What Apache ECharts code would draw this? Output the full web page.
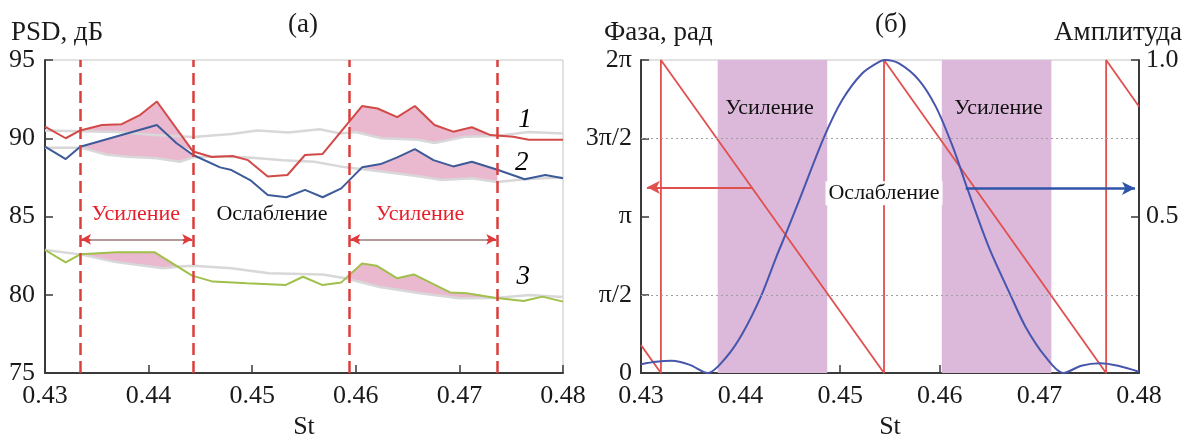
<!DOCTYPE html>
<html>
<head>
<meta charset="utf-8">
<script src="https://cdn.jsdelivr.net/npm/echarts@6/dist/echarts.min.js"></script>
<style>
html,body{margin:0;padding:0;background:#fff;}
#chart{width:1189px;height:435px;}
</style>
</head>
<body>
<div id="chart"></div>
<script>
// ---------- data (panel a) ----------
const stTicks = [0.43, 0.44, 0.45, 0.46, 0.47, 0.48];
const psdTicks = [75, 80, 85, 90, 95];
const curve1 = [[0.4300,90.75],[0.4320,90.0],[0.4334,90.5],[0.4355,90.85],[0.4374,90.9],[0.4392,91.5],[0.4408,92.35],[0.4443,89.15],[0.4461,88.8],[0.4481,88.87],[0.4496,88.6],[0.4515,87.55],[0.4534,87.65],[0.4551,88.93],[0.4568,89.0],[0.4606,92.06],[0.4621,91.9],[0.4640,91.35],[0.4657,92.06],[0.4676,90.85],[0.4694,90.42],[0.4712,90.7],[0.4730,90.2],[0.4752,90.1],[0.4767,89.9],[0.4800,89.9]];
const curve2 = [[0.4300,89.46],[0.4320,88.67],[0.4334,89.46],[0.4408,90.85],[0.4427,89.68],[0.4443,88.93],[0.4469,88.14],[0.4480,87.97],[0.4498,87.33],[0.4515,86.37],[0.4533,86.23],[0.4551,86.7],[0.4568,86.23],[0.4586,86.8],[0.4606,88.14],[0.4624,88.35],[0.4640,88.78],[0.4657,89.3],[0.4675,88.6],[0.4694,88.2],[0.4712,88.5],[0.4736,88.0],[0.4763,87.38],[0.4783,87.65],[0.4800,87.44]];
const curve3 = [[0.4300,82.86],[0.4320,82.07],[0.4334,82.58],[0.4369,82.71],[0.4406,82.71],[0.4442,81.22],[0.4462,80.84],[0.4495,80.73],[0.4532,80.62],[0.4549,81.15],[0.4568,80.62],[0.4586,80.79],[0.4606,82.0],[0.4620,81.86],[0.4640,81.05],[0.4656,81.3],[0.4691,80.15],[0.4707,80.1],[0.4734,79.81],[0.4762,79.6],[0.4780,79.88],[0.4800,79.56]];
const base1 = [[0.4300,90.5],[0.4334,90.45],[0.4370,90.4],[0.4405,90.2],[0.4443,90.08],[0.4480,90.27],[0.4505,90.5],[0.4535,90.36],[0.4565,90.57],[0.4585,90.3],[0.4600,90.4],[0.4625,90.0],[0.4660,89.9],[0.4676,89.7],[0.4705,90.1],[0.4736,90.15],[0.4767,90.4],[0.4800,90.3]];
const base2 = [[0.4300,89.4],[0.4334,89.4],[0.4360,88.95],[0.4380,88.82],[0.4408,88.72],[0.4430,88.5],[0.4443,88.78],[0.4470,88.85],[0.4500,88.76],[0.4530,88.6],[0.4560,88.5],[0.4590,88.14],[0.4625,87.87],[0.4664,87.54],[0.4683,87.33],[0.4712,87.44],[0.4736,87.2],[0.4763,87.38],[0.4800,87.5]];
const base3 = [[0.4300,82.86],[0.4334,82.58],[0.4367,82.1],[0.4414,81.7],[0.4430,81.8],[0.4443,81.86],[0.4480,81.7],[0.4516,81.37],[0.4568,81.3],[0.4590,81.05],[0.4623,80.5],[0.4662,80.1],[0.4700,79.77],[0.4734,79.8],[0.4768,79.98],[0.4800,79.85]];
const gainZonesA = [[0.43338, 0.44431], [0.45937, 0.47366]];
const arrowLevelA = 83.54;
const labelsA = [
  {name:'Усиление', x:0.43876, y:85.14, color:'#e81e28', italic:false},
  {name:'Ослабление', x:0.45191, y:85.14, color:'#111', italic:false},
  {name:'Усиление', x:0.46620, y:85.14, color:'#e81e28', italic:false},
  {name:'1', x:0.47633, y:91.17, color:'#000', italic:true},
  {name:'2', x:0.47601, y:88.44, color:'#000', italic:true},
  {name:'3', x:0.47617, y:81.15, color:'#000', italic:true}
];
// ---------- data (panel б) ----------
const phaseTickLabels = ['0', 'π/2', 'π', '3π/2', '2π'];
const ampTickLabels = ['', '0.5', '1.0'];
const phase = [[0.4300,0.56],[0.4320,0],[0.4320,6.2832],[0.4544,0],[0.4544,6.2832],[0.4767,0],[0.4767,6.2832],[0.4800,5.35]];
const amplitude = [[0.4300,0.028],[0.4315,0.036],[0.4331,0.039],[0.4349,0.026],[0.4367,0.0],[0.4386,0.052],[0.4402,0.127],[0.4421,0.249],[0.4436,0.372],[0.4447,0.457],[0.4459,0.553],[0.4484,0.755],[0.4502,0.872],[0.4522,0.957],[0.4539,0.994],[0.4545,1.0],[0.4559,0.989],[0.4579,0.936],[0.4596,0.851],[0.4613,0.723],[0.4627,0.595],[0.4649,0.404],[0.4671,0.249],[0.4686,0.148],[0.4706,0.052],[0.4724,0.0],[0.4742,0.023],[0.4761,0.031],[0.4779,0.023],[0.4800,0.004]];
const gainBandsB = [[0.4377, 0.4487], [0.4602, 0.4712]];
const phaseArrow = {from:0.4412, to:0.4306, y:3.727};
const ampArrow = {from:0.4626, to:0.4796, y:0.59};
const labelsB = [
  {name:'Усиление', x:0.4429, y:5.32, bg:null},
  {name:'Усиление', x:0.4659, y:5.32, bg:null},
  {name:'Ослабление', x:0.4544, y:3.61, bg:'#fff'}
];

// ---------- helpers ----------
const FONT = '"Liberation Serif","DejaVu Serif",serif';
function interp(arr, x){
  if (x <= arr[0][0]) return arr[0][1];
  for (let i=1;i<arr.length;i++){
    if (x <= arr[i][0]){
      const a=arr[i-1], b=arr[i];
      return a[1] + (b[1]-a[1])*(x-a[0])/(b[0]-a[0]);
    }
  }
  return arr[arr.length-1][1];
}
function buildFill(curve, base, x0, x1){
  const xs = [x0, x1];
  curve.concat(base).forEach(p=>{ if(p[0]>x0 && p[0]<x1) xs.push(p[0]); });
  xs.sort((a,b)=>a-b);
  const top = xs.map(x=>[x, interp(curve,x)]);
  const bot = xs.map(x=>{ const u=interp(curve,x), b=interp(base,x); return [x, Math.min(u,b)]; }).reverse();
  return top.concat(bot);
}
const fillPolys = [];
[[curve1,base1],[curve2,base2],[curve3,base3]].forEach(([c,b])=>{
  gainZonesA.forEach(z=>fillPolys.push(buildFill(c,b,z[0],z[1])));
});
const psdMin = psdTicks[0], psdMax = psdTicks[psdTicks.length-1];

const axisLineStyle = {color:'#3a3a3a', width:2};
const labelStyle = {fontFamily:FONT, fontSize:26, color:'#1a1a1a'};
function xAxisCfg(gi){
  return {
    type:'value', gridIndex:gi, min:0.43, max:0.48, interval:0.01,
    axisLine:{show:true, lineStyle:axisLineStyle},
    axisTick:{show:true, inside:true, length:8, lineStyle:{color:'#3a3a3a', width:1.5}},
    axisLabel:Object.assign({margin:10, formatter:v=>{const i=stTicks.findIndex(t=>Math.abs(t-v)<1e-6); return i>=0?stTicks[i].toFixed(2):'';}}, labelStyle),
    splitLine:{show:false},
    name:'St', nameLocation:'middle', nameGap:36,
    nameTextStyle:{fontFamily:FONT, fontSize:26, color:'#1a1a1a'}
  };
}

const titleStyle = {fontFamily:FONT, fontSize:27, fontWeight:'normal', color:'#1a1a1a'};
const option = {
  animation:false,
  backgroundColor:'#fff',
  title:[
    {text:'PSD, дБ', left:11, top:19, padding:0, textStyle:titleStyle},
    {text:'(а)', left:288, top:11, padding:0, textStyle:titleStyle},
    {text:'Фаза, рад', left:604, top:19, padding:0, textStyle:titleStyle},
    {text:'(б)', left:875, top:11, padding:0, textStyle:titleStyle},
    {text:'Амплитуда', right:7, top:19, padding:0, textStyle:titleStyle}
  ],
  grid:[
    {left:45, top:60, width:518, height:313, containLabel:false, outerBoundsMode:'none', show:true, borderColor:'#c4c4c4', borderWidth:1, backgroundColor:'#fff'},
    {left:641, top:60, width:498, height:313, containLabel:false, outerBoundsMode:'none', show:true, borderColor:'#c4c4c4', borderWidth:1, backgroundColor:'#fff'}
  ],
  xAxis:[xAxisCfg(0), xAxisCfg(1)],
  yAxis:[
    {type:'value', gridIndex:0, min:psdMin, max:psdMax, interval:5,
     axisLine:{show:true, lineStyle:axisLineStyle},
     axisTick:{show:true, inside:true, length:8, lineStyle:{color:'#3a3a3a', width:1.5}},
     axisLabel:Object.assign({margin:10, formatter:v=>{const i=psdTicks.indexOf(Math.round(v)); return i>=0?String(psdTicks[i]):'';}}, labelStyle),
     splitLine:{show:false}},
    {type:'value', gridIndex:1, min:0, max:2*Math.PI, interval:Math.PI/2, position:'left',
     axisLine:{show:true, lineStyle:axisLineStyle},
     axisTick:{show:true, inside:true, length:8, lineStyle:{color:'#3a3a3a', width:1.5}},
     axisLabel:Object.assign({margin:9, formatter:v=>phaseTickLabels[Math.round(v/(Math.PI/2))]||''}, labelStyle),
     splitLine:{show:false}},
    {type:'value', gridIndex:1, min:0, max:1, interval:0.5, position:'right',
     axisLine:{show:true, lineStyle:axisLineStyle},
     axisTick:{show:true, inside:true, length:8, lineStyle:{color:'#3a3a3a', width:1.5}},
     axisLabel:Object.assign({margin:7, formatter:v=>ampTickLabels[Math.round(v*2)]||''}, labelStyle),
     splitLine:{show:false}}
  ],
  series:[
    // pink fills (panel a)
    {type:'custom', xAxisIndex:0, yAxisIndex:0, z:1, silent:true,
     data:fillPolys.map(p=>[p[0][0], p[0][1]]),
     renderItem:(params, api)=>{
       const pts = fillPolys[params.dataIndex].map(p=>api.coord(p));
       return {type:'polygon', shape:{points:pts}, style:{fill:'#eab9cf'}};
     }},
    // gray baselines
    ...[base1, base2, base3].map(b=>({type:'line', xAxisIndex:0, yAxisIndex:0, z:2, data:b, showSymbol:false, symbol:'none',
      lineStyle:{color:'#d8d8d8', width:2.5}})),
    // colored curves
    {type:'line', xAxisIndex:0, yAxisIndex:0, z:3, data:curve1, symbol:'none', lineStyle:{color:'#d24a48', width:2}},
    {type:'line', xAxisIndex:0, yAxisIndex:0, z:3, data:curve2, symbol:'none', lineStyle:{color:'#3d5a99', width:2}},
    {type:'line', xAxisIndex:0, yAxisIndex:0, z:3, data:curve3, symbol:'none', lineStyle:{color:'#a0bf4c', width:2}},
    // dashed zone borders + arrows
    {type:'line', xAxisIndex:0, yAxisIndex:0, z:4, data:[], silent:true,
     markLine:{silent:true, symbol:['none','none'], label:{show:false},
       lineStyle:{color:'#d9403b', width:2.5, type:[12,6]},
       data:[gainZonesA[0][0], gainZonesA[0][1], gainZonesA[1][0], gainZonesA[1][1]].map(x=>[{coord:[x, psdMin]},{coord:[x, psdMax]}])}},
    {type:'line', xAxisIndex:0, yAxisIndex:0, z:4, data:[], silent:true,
     markLine:{silent:true, symbol:['arrow','arrow'], symbolSize:[8,10], label:{show:false},
       lineStyle:{color:'#e03a3a', width:2, type:'solid'},
       data:gainZonesA.map(z=>[{coord:[z[0]+0.0001, arrowLevelA]},{coord:[z[1]-0.0001, arrowLevelA]}])}},
    {type:'line', xAxisIndex:0, yAxisIndex:0, z:5, data:[], silent:true,
     markLine:{silent:true, symbol:['none','none'], label:{show:false},
       lineStyle:{color:'#b49a9a', width:2, type:'solid'},
       data:gainZonesA.map(z=>[{coord:[z[0]+0.0010, arrowLevelA]},{coord:[z[1]-0.0010, arrowLevelA]}])}},
    // text labels panel a
    {type:'scatter', xAxisIndex:0, yAxisIndex:0, z:6, silent:true, symbolSize:1, itemStyle:{color:'rgba(255,255,255,0)'},
     data:labelsA.map(l=>({value:[l.x,l.y], name:l.name,
       label:{show:true, position:'inside', formatter:l.name, color:l.color, opacity:1, fontFamily:FONT,
              fontSize:l.italic?27:22, fontStyle:l.italic?'italic':'normal'}}))},
    // panel b: bands
    {type:'line', xAxisIndex:1, yAxisIndex:1, z:1, data:[], silent:true,
     markArea:{silent:true, itemStyle:{color:'#dcb8db'}, label:{show:false},
       data:gainBandsB.map(b=>[{xAxis:b[0]},{xAxis:b[1]}])}},
    // dotted reference lines
    {type:'line', xAxisIndex:1, yAxisIndex:1, z:2, data:[], silent:true,
     markLine:{silent:true, symbol:['none','none'], label:{show:false},
       lineStyle:{color:'#a0a0a0', width:1.2, type:[2,3]},
       data:[Math.PI/2, 3*Math.PI/2].map(v=>[{coord:[0.43, v]},{coord:[0.48, v]}])}},
    // phase
    {type:'line', xAxisIndex:1, yAxisIndex:1, z:3, data:phase, symbol:'none', lineStyle:{color:'#e0504f', width:1.8},
     markLine:{silent:true, symbol:['none','arrow'], symbolSize:[10,13], label:{show:false},
       lineStyle:{color:'#e0504f', width:2.2, type:'solid'},
       data:[[{coord:[phaseArrow.from, phaseArrow.y]},{coord:[phaseArrow.to, phaseArrow.y]}]]}},
    // amplitude
    {type:'line', xAxisIndex:1, yAxisIndex:2, z:3, data:amplitude, symbol:'none', smooth:0.3, lineStyle:{color:'#4656ad', width:2},
     markLine:{silent:true, symbol:['none','arrow'], symbolSize:[10,13], label:{show:false},
       lineStyle:{color:'#2f55a8', width:2.5, type:'solid'},
       data:[[{coord:[ampArrow.from, ampArrow.y]},{coord:[ampArrow.to, ampArrow.y]}]]}},
    // text labels panel b
    {type:'scatter', xAxisIndex:1, yAxisIndex:1, z:6, silent:true, symbolSize:1, itemStyle:{color:'rgba(255,255,255,0)'},
     data:labelsB.map(l=>({value:[l.x,l.y], name:l.name,
       label:{show:true, position:'inside', formatter:l.name, color:'#111', opacity:1, fontFamily:FONT, fontSize:22,
              backgroundColor:l.bg||'transparent', padding:l.bg?[1,3]:0}}))}
  ]
};
const chart = echarts.init(document.getElementById('chart'), null, {renderer:'canvas'});
chart.setOption(option);
</script>
</body>
</html>
